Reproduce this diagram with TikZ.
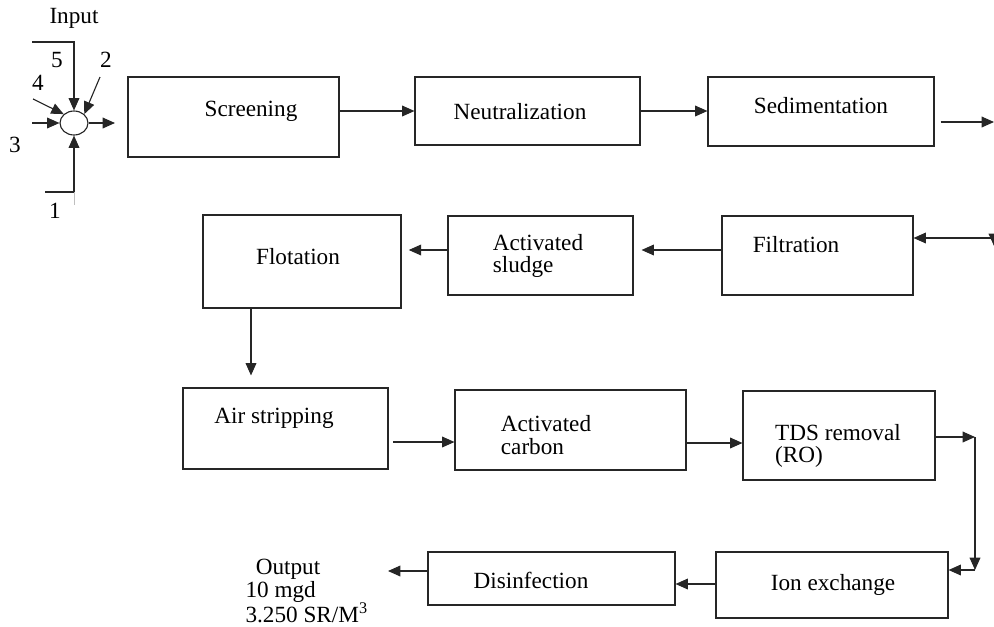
\documentclass[tikz,border=0pt]{standalone}
\usepackage{fontspec}
\setmainfont{Liberation Serif}
\usetikzlibrary{arrows.meta,shapes.geometric,fit}
\begin{document}
\begin{tikzpicture}[x=0.025cm,y=-0.025cm,
	font=\fontsize{16.5}{15.8}\selectfont,
	line width=0.8pt,draw=black!85,
	blk/.style={draw,rectangle,inner sep=0pt},
	lbl/.style={inner sep=0pt,align=left},
	arr/.style={-{Triangle[length=0.31cm,width=0.27cm]}}]
	\useasboundingbox (0,0) rectangle (994,626);
	% mixing point with the five inputs
	\node[lbl] (tin) at (74,18) {Input};
	\node[draw,ellipse,inner sep=0pt,minimum width=0.7cm,minimum height=0.6cm] (mix) at (74,123) {};
	\coordinate (in5) at (32,42);
	\coordinate (in2) at (100,77);
	\coordinate (in4) at (33,99);
	\coordinate (in3) at (32,123);
	\coordinate (in1) at (45,192);
	\coordinate (mixout) at (115,123);
	\draw[arr] (in5) -| (mix.north);
	\draw[arr] (in2) -- (mix.north east);
	\draw[arr] (in4) -- (mix.north west);
	\draw[arr] (in3) -- (mix.west);
	\draw[arr] (in1) -| (mix.south);
	\draw[arr] (mix.east) -- (mixout);
	\draw[gray!50,line width=0.5pt] (74,192) -- (74,205);
	\node[lbl] (l5) at (57,60) {5};
	\node[lbl] (l2) at (106,60) {2};
	\node[lbl] (l4) at (38,83) {4};
	\node[lbl] (l3) at (15,145) {3};
	\node[lbl] (l1) at (55,211) {1};
	% first row
	\node[blk,fit={(128,77) (339,157)}] (scr) {};
	\node[blk,fit={(415,77) (640,145)}] (neu) {};
	\node[blk,fit={(708,77) (934,146)}] (sed) {};
	\node[lbl] (tscr) at (251,111) {Screening};
	\node[lbl] (tneu) at (520,112) {Neutralization};
	\node[lbl] (tsed) at (821,106) {Sedimentation};
	\coordinate (sedout) at (994,122);
	\draw[arr] (scr.east |- 0,111) -- (neu.west |- 0,111);
	\draw[arr] (neu.east |- 0,111) -- (sed.west |- 0,111);
	\draw[arr,shorten <=0.15cm] (sed.east |- sedout) -- (sedout);
	% second row
	\node[blk,fit={(203,215) (401,308)}] (flo) {};
	\node[blk,fit={(448,216) (633,295)}] (slu) {};
	\node[blk,fit={(722,216) (913,295)}] (fil) {};
	\node[lbl] (tflo) at (298,257) {Flotation};
	\node[lbl] (tslu) at (538,256) {Activated\\sludge};
	\node[lbl] (tfil) at (796,245) {Filtration};
	\coordinate (filin) at (994,238);
	\draw[arr] (filin) -- (fil.east |- filin);
	\draw[arr] (filin) ++(0,-4) -- ++(0,12);
	\draw[arr,shorten >=0.2cm] (fil.west |- 0,250) -- (slu.east |- 0,250);
	\draw[arr,shorten >=0.18cm] (slu.west |- 0,250) -- (flo.east |- 0,250);
	% third row
	\node[blk,fit={(183,388) (388,469)}] (air) {};
	\node[blk,fit={(455,390) (686,470)}] (car) {};
	\node[blk,fit={(743,391) (935,480)}] (tds) {};
	\node[lbl] (tair) at (274,418) {Air stripping};
	\node[lbl] (tcar) at (546,435) {Activated\\carbon};
	\node[lbl] (ttds) at (838,446) {TDS removal\\(RO)};
	\draw[arr,shorten >=0.3cm] (flo.south -| 251,0) -- (air.north -| 251,0);
	\draw[arr,shorten <=0.12cm] (air.east |- 0,442) -- (car.west |- 0,442);
	\draw[arr] (car.east |- 0,443) -- (tds.west |- 0,443);
	% last row
	\node[blk,fit={(716,552) (948,618)}] (ion) {};
	\node[blk,fit={(428,552) (675,605)}] (dis) {};
	\node[lbl] (tion) at (833,585) {Ion exchange};
	\node[lbl] (tdis) at (531,580) {Disinfection};
	\coordinate (c1) at (975,437);
	\coordinate (c2) at (975,570);
	\draw[arr] (tds.east |- c1) -- (c1);
	\draw[arr] (c1) -- (c2);
	\draw[arr] (c2) -- (ion.east |- c2);
	\coordinate (outtip) at (388,571);
	\draw[arr] (ion.west |- 0,584) -- (dis.east |- 0,584);
	\draw[arr] (dis.west |- outtip) -- (outtip);
	\node[lbl] (out1) at (288,569) {Output};
	\node[lbl,anchor=west] (out2) at (245,592) {10 mgd};
	\node[lbl,anchor=west] (out3) at (245,613) {3.250 SR/M\textsuperscript{3}};
\end{tikzpicture}
\end{document}
